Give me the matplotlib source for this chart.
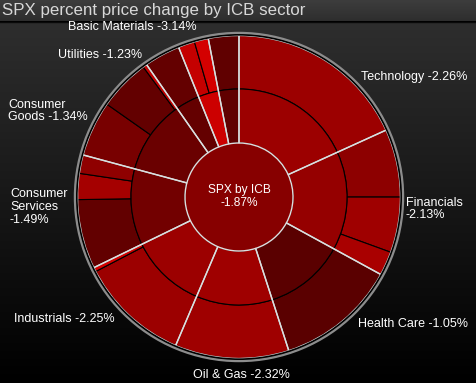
import numpy as np
import matplotlib
matplotlib.use("Agg")
import matplotlib.pyplot as plt
from matplotlib.colors import LinearSegmentedColormap, Normalize
from matplotlib.patches import Circle

# ---------------- data ----------------
title = "SPX percent price change by ICB sector"
index_name = "SPX by ICB"
index_change = -1.87

sectors = ["Technology", "Financials", "Health Care", "Oil & Gas", "Industrials",
           "Consumer Services", "Consumer Goods", "Utilities", "Basic Materials",
           "Telecommunications"]
sector_change = [-2.26, -2.13, -1.05, -2.32, -2.25, -1.49, -1.34, -1.23, -3.14, -1.15]

# supersectors (weights in % of index, changes in %)
sub_names = [
    ["Technology"],
    ["Banks", "Financial Services", "Insurance"],
    ["Health Care"],
    ["Oil & Gas"],
    ["Industrial Goods & Services", "Construction & Materials"],
    ["Retail", "Media", "Travel & Leisure"],
    ["Personal & Household Goods", "Food & Beverage", "Automobiles & Parts"],
    ["Utilities"],
    ["Chemicals", "Basic Resources"],
    ["Telecommunications"],
]
sub_weight = [
    [18.2],
    [6.8, 5.55, 2.4],
    [12.05],
    [11.4],
    [10.95, 0.42],
    [6.95, 2.6, 1.85],
    [5.55, 5.15, 0.4],
    [3.6],
    [1.65, 1.4],
    [3.05],
]
sub_change = [
    [-2.26],
    [-1.98, -2.31, -2.50],
    [-1.05],
    [-2.32],
    [-2.25, -3.30],
    [-1.18, -2.42, -2.03],
    [-1.60, -1.21, -2.99],
    [-1.23],
    [-3.00, -3.30],
    [-1.15],
]
label_text = {
    "Technology": "Technology -2.26%",
    "Financials": "Financials\n-2.13%",
    "Health Care": "Health Care -1.05%",
    "Oil & Gas": "Oil & Gas -2.32%",
    "Industrials": "Industrials -2.25%",
    "Consumer Services": "Consumer\nServices\n-1.49%",
    "Consumer Goods": "Consumer\nGoods -1.34%",
    "Utilities": "Utilities -1.23%",
    "Basic Materials": "Basic Materials -3.14%",
}

# ---------------- figure ----------------
W, H = 476, 383
fig = plt.figure(figsize=(W / 100, H / 100), dpi=100)
ax = fig.add_axes([0, 0, 1, 1])

def py(y):  # pixel-from-top -> data y
    return H - y

# background gradient (chart area) and title bar
grad = np.linspace(0.18, 0.0, 256).reshape(-1, 1)
ax.imshow(np.dstack([grad] * 3), extent=(0, W, 0, py(22)), aspect="auto", zorder=0)
tgrad = np.linspace(0.24, 0.18, 64).reshape(-1, 1)
ax.imshow(np.dstack([tgrad] * 3), extent=(0, W, py(21), H), aspect="auto", zorder=0)
ax.plot([0, W], [py(21.5), py(21.5)], color="#0a0a0a", lw=1.0, zorder=1)

cmap = LinearSegmentedColormap.from_list("reds", ["#d40000", "#580000"])
norm = Normalize(vmin=-3.3, vmax=-1.0)

cx, cy = 239, py(197)
R_out, R_mid, R_in = 161.5, 108, 54

flat_w = [w for ws in sub_weight for w in ws]
flat_c = [c for cs in sub_change for c in cs]
sector_weight = [sum(ws) for ws in sub_weight]

# outer ring (supersectors)
ax.pie(flat_w, radius=R_out, center=(cx, cy), startangle=90, counterclock=False,
       colors=[cmap(norm(v)) for v in flat_c],
       wedgeprops=dict(width=R_out - R_mid, edgecolor="black", linewidth=0.8))
# inner ring (sectors)
ax.pie(sector_weight, radius=R_mid, center=(cx, cy), startangle=90, counterclock=False,
       colors=[cmap(norm(v)) for v in sector_change],
       wedgeprops=dict(width=R_mid - R_in, edgecolor="black", linewidth=0.8))
# center
ax.pie([1], radius=R_in, center=(cx, cy), colors=[cmap(norm(index_change))],
       wedgeprops=dict(edgecolor="none"))
# white sector boundaries
ax.pie(sector_weight, radius=R_out, center=(cx, cy), startangle=90, counterclock=False,
       wedgeprops=dict(width=R_out - R_in, facecolor="none", edgecolor="#dedede", linewidth=1.0))
# rims
ax.add_patch(Circle((cx, cy), R_out + 0.8, fill=False, edgecolor="black", lw=1.4, zorder=5))
ax.add_patch(Circle((cx, cy), R_out + 2.6, fill=False, edgecolor="#8c8c8c", lw=1.6, zorder=5))

ax.set_xlim(0, W)
ax.set_ylim(0, H)
ax.set_aspect("equal")
ax.axis("off")

# ---------------- text ----------------
lab_font = dict(family="Liberation Sans", size=9, color="white", zorder=6)
ax.text(2, py(10.5), title, family="Liberation Sans", size=12.2, color="#d8d8d8",
        ha="left", va="center", zorder=6)
ax.text(cx, py(196.5), index_name + "\n" + f"{index_change:.2f}%", ha="center", va="center",
        linespacing=1.05, **{**lab_font, "size": 8.6})

pos = {
    "Technology": (361, 77, "left"),
    "Financials": (406, 209, "left"),
    "Health Care": (358, 324, "left"),
    "Oil & Gas": (241, 375, "center"),
    "Industrials": (14, 319, "left"),
    "Consumer Services": (10, 207, "left"),
    "Consumer Goods": (8, 111, "left"),
    "Utilities": (58, 55, "left"),
    "Basic Materials": (68, 27, "left"),
}
for s in sectors:
    if s in label_text:
        x, y, ha = pos[s]
        ax.text(x, py(y), label_text[s], ha=ha, va="center", linespacing=1.1, **lab_font)

fig.savefig("out.png", dpi=100, facecolor="black")
